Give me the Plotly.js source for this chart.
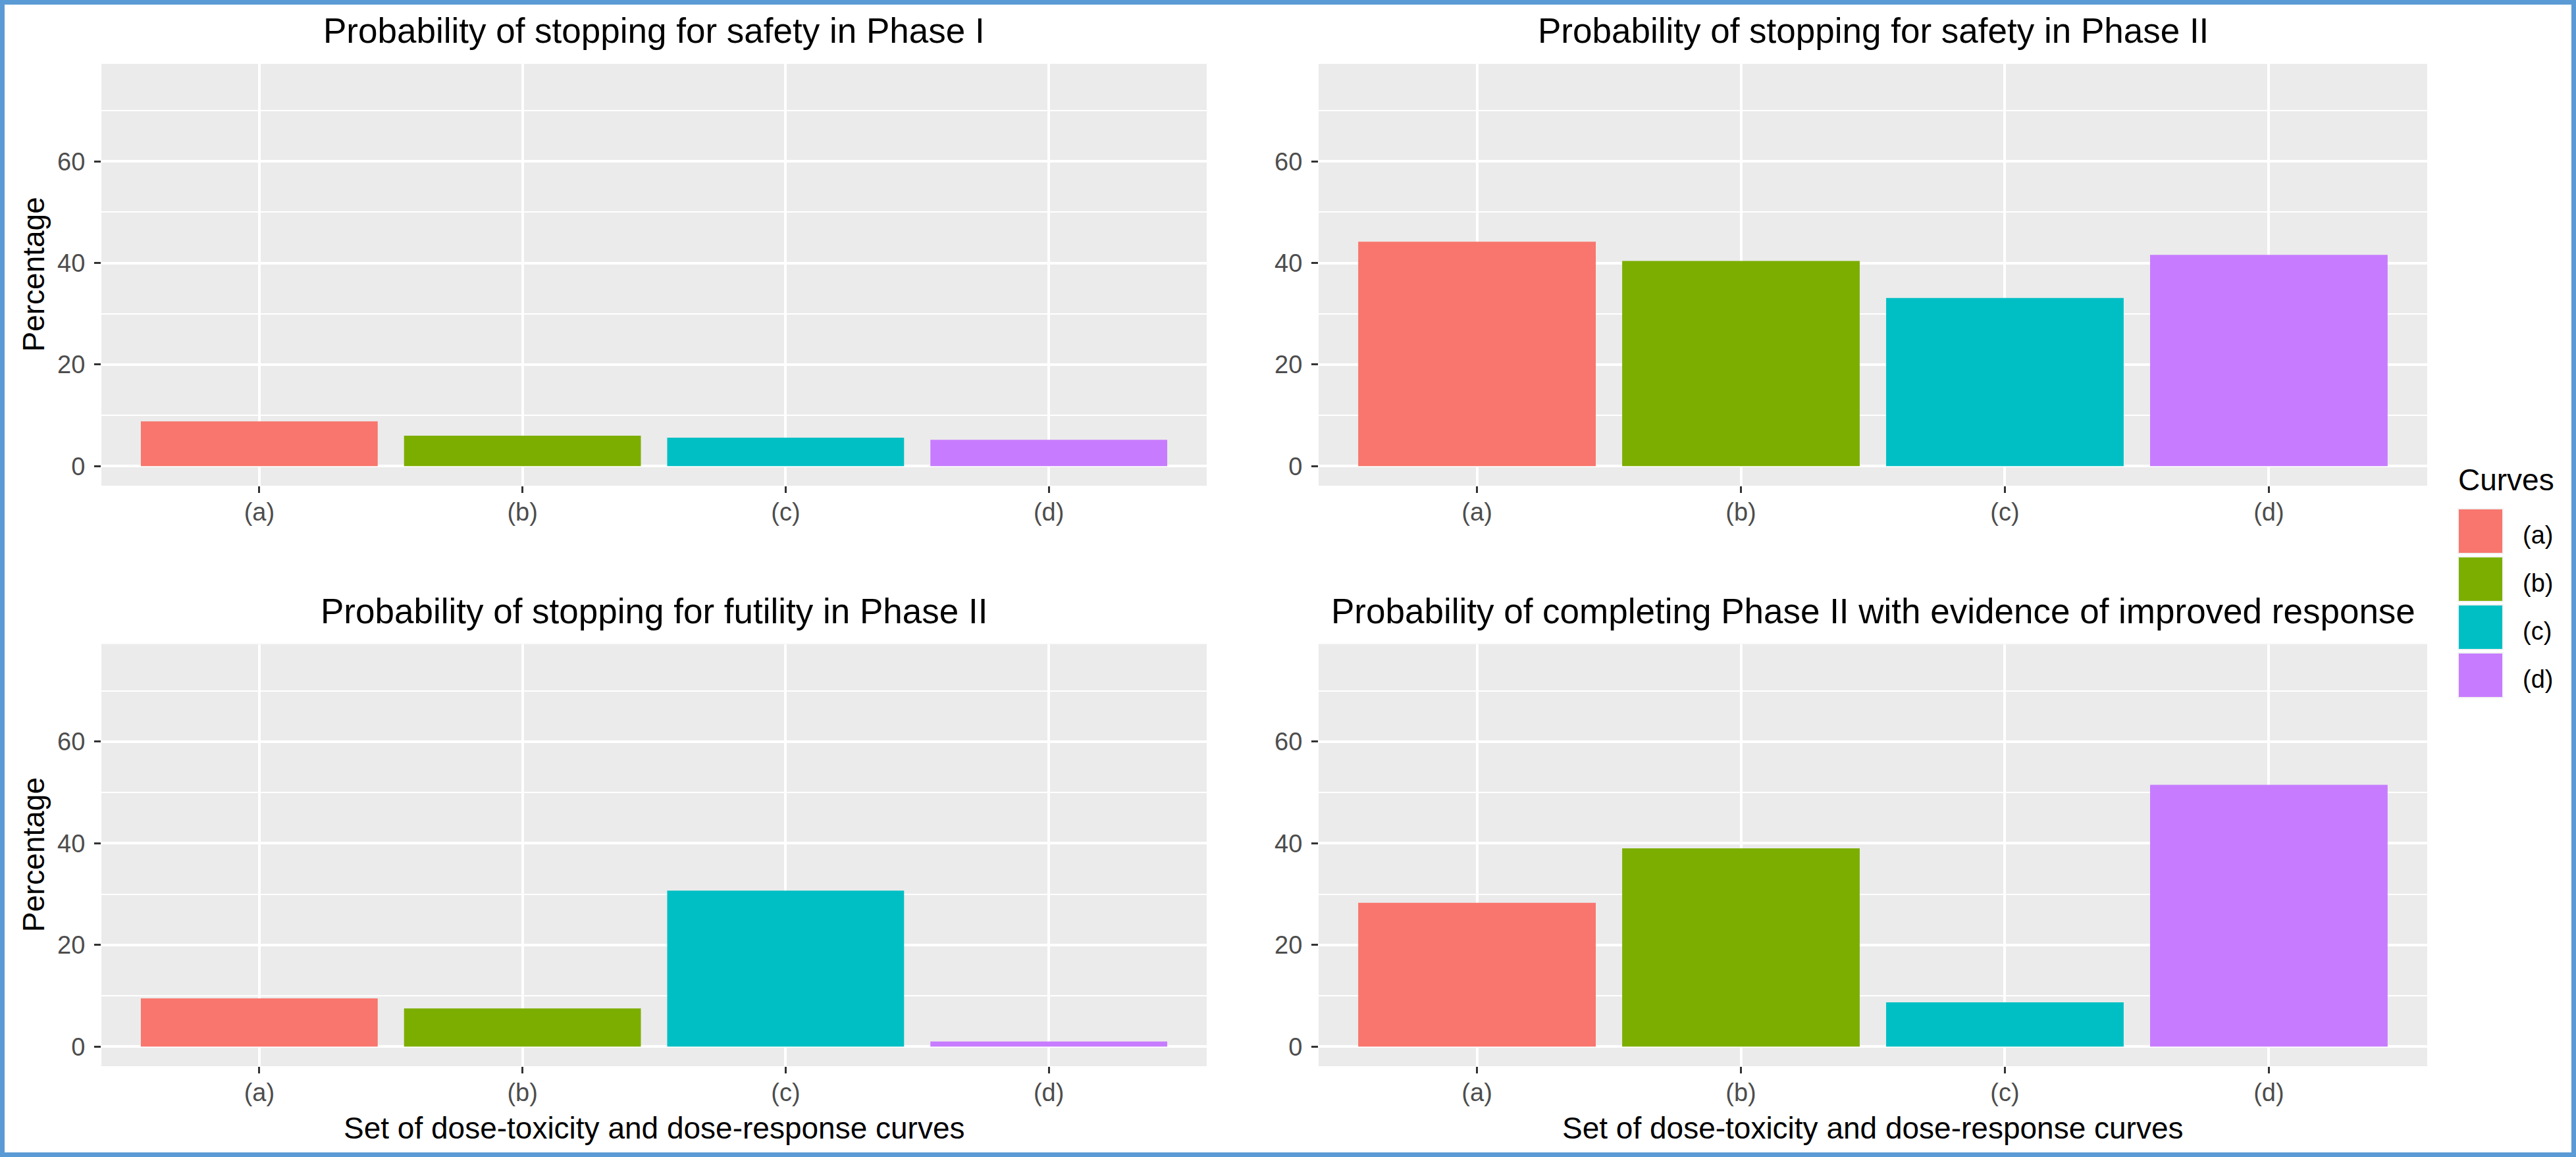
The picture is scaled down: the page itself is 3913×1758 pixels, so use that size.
<!DOCTYPE html>
<html>
<head>
<meta charset="utf-8">
<script src="https://cdn.plot.ly/plotly-3.0.1.min.js"></script>
<style>
  html, body { margin: 0; padding: 0; background: #ffffff; }
  #chart { width: 3913px; height: 1758px; }
</style>
</head>
<body>
<div id="chart"></div>
<script>
// ---------------- data ----------------
const categories = ['(a)', '(b)', '(c)', '(d)'];
const curveColors = ['#F8766D', '#7CAE00', '#00BFC4', '#C77CFF'];
const safetyPhaseI = [8.8, 6.0, 5.6, 5.2];
const safetyPhaseII = [44.2, 40.4, 33.1, 41.6];
const futilityPhaseII = [9.5, 7.5, 30.7, 1.0];
const improvedResponsePhaseII = [28.3, 39.0, 8.7, 51.5];
const panelTitles = [
  'Probability of stopping for safety in Phase I',
  'Probability of stopping for safety in Phase II',
  'Probability of stopping for futility in Phase II',
  'Probability of completing Phase II with evidence of improved response'
];
const yAxisTitle = 'Percentage';
const xAxisTitle = 'Set of dose-toxicity and dose-response curves';
const legendTitle = 'Curves';

// ---------------- layout helpers ----------------
const W = 3913, H = 1758;
const FONT = 'Liberation Sans, Arial, Helvetica, sans-serif';
const px = v => v / W;          // pixel x -> paper
const py = v => 1 - v / H;      // pixel y (from top) -> paper

const colL = [154, 1833], colR = [2003, 3687];
const rowT = [97, 738], rowB = [978.5, 1620];
const yRange = [-3.85, 79.2];

const panels = [
  {values: safetyPhaseI, col: colL, row: rowT, yTitle: true, xTitle: false},
  {values: safetyPhaseII, col: colR, row: rowT, yTitle: false, xTitle: false},
  {values: futilityPhaseII, col: colL, row: rowB, yTitle: true, xTitle: true},
  {values: improvedResponsePhaseII, col: colR, row: rowB, yTitle: false, xTitle: true}
];

const data = [];
const layout = {
  width: W, height: H,
  margin: {l: 0, r: 0, t: 0, b: 0, pad: 0},
  paper_bgcolor: '#FFFFFF',
  plot_bgcolor: '#EBEBEB',
  bargap: 0.1,
  showlegend: false,
  font: {family: FONT, color: '#000000'},
  annotations: [],
  shapes: []
};

panels.forEach((p, i) => {
  const n = i === 0 ? '' : String(i + 1);
  data.push({
    type: 'bar',
    x: categories,
    y: p.values,
    xaxis: 'x' + n,
    yaxis: 'y' + n,
    marker: {color: curveColors, line: {width: 0}},
    showlegend: false,
    hoverinfo: 'x+y'
  });
  layout['xaxis' + n] = {
    domain: [px(p.col[0]), px(p.col[1])],
    anchor: 'y' + n,
    type: 'category',
    categoryorder: 'array',
    categoryarray: categories,
    range: [-0.6, 3.6],
    fixedrange: true,
    showgrid: true, gridcolor: '#FFFFFF', gridwidth: 4,
    zeroline: false, showline: false,
    ticks: 'outside', ticklen: 10, tickwidth: 3, tickcolor: '#333333',
    ticklabelstandoff: -4,
    tickfont: {family: FONT, size: 38, color: '#4D4D4D'}
  };
  layout['yaxis' + n] = {
    domain: [py(p.row[1]), py(p.row[0])],
    anchor: 'x' + n,
    range: yRange,
    fixedrange: true,
    tickmode: 'linear', tick0: 0, dtick: 20,
    showgrid: true, gridcolor: '#FFFFFF', gridwidth: 4,
    minor: {tickmode: 'linear', tick0: 0, dtick: 10, showgrid: true, gridcolor: '#FFFFFF', gridwidth: 2, ticks: ''},
    zeroline: false, showline: false,
    ticks: 'outside', ticklen: 10, tickwidth: 3, tickcolor: '#333333',
    ticklabelstandoff: 6,
    tickfont: {family: FONT, size: 38, color: '#4D4D4D'}
  };
  // panel title
  layout.annotations.push({
    xref: 'paper', yref: 'paper',
    x: px((p.col[0] + p.col[1]) / 2), y: py(p.row[0] - 50),
    xanchor: 'center', yanchor: 'middle',
    text: panelTitles[i], showarrow: false,
    font: {family: FONT, size: 53, color: '#000000'}
  });
  if (p.yTitle) {
    layout.annotations.push({
      xref: 'paper', yref: 'paper',
      x: px(51), y: py((p.row[0] + p.row[1]) / 2),
      xanchor: 'center', yanchor: 'middle', textangle: -90,
      text: yAxisTitle, showarrow: false,
      font: {family: FONT, size: 46, color: '#000000'}
    });
  }
  if (p.xTitle) {
    layout.annotations.push({
      xref: 'paper', yref: 'paper',
      x: px((p.col[0] + p.col[1]) / 2), y: py(p.row[1] + 94),
      xanchor: 'center', yanchor: 'middle',
      text: xAxisTitle, showarrow: false,
      font: {family: FONT, size: 46, color: '#000000'}
    });
  }
});

// ---------------- legend (drawn manually: ggplot-size keys) ----------------
const legX = 3734, keySize = 68, keyTop0 = 773, keyPitch = 73;
layout.annotations.push({
  xref: 'paper', yref: 'paper', x: px(legX - 2), y: py(729),
  xanchor: 'left', yanchor: 'middle', text: legendTitle, showarrow: false,
  font: {family: FONT, size: 46, color: '#000000'}
});
categories.forEach((c, k) => {
  const top = keyTop0 + k * keyPitch;
  layout.shapes.push({
    type: 'rect', xref: 'paper', yref: 'paper', layer: 'above',
    x0: px(legX), x1: px(legX + keySize), y0: py(top + keySize), y1: py(top),
    fillcolor: curveColors[k], line: {color: '#F2F2F2', width: 2}
  });
  layout.annotations.push({
    xref: 'paper', yref: 'paper', x: px(3830), y: py(top + keySize / 2 + 6),
    xanchor: 'left', yanchor: 'middle', text: c, showarrow: false,
    font: {family: FONT, size: 38, color: '#000000'}
  });
});

// ---------------- outer blue frame ----------------
layout.shapes.push({
  type: 'rect', xref: 'paper', yref: 'paper', layer: 'above',
  x0: 0, x1: 1, y0: 0, y1: 1,
  fillcolor: 'rgba(0,0,0,0)', line: {color: '#5B9BD5', width: 14}
});

Plotly.newPlot('chart', data, layout, {displayModeBar: false, staticPlot: true});
</script>
</body>
</html>
